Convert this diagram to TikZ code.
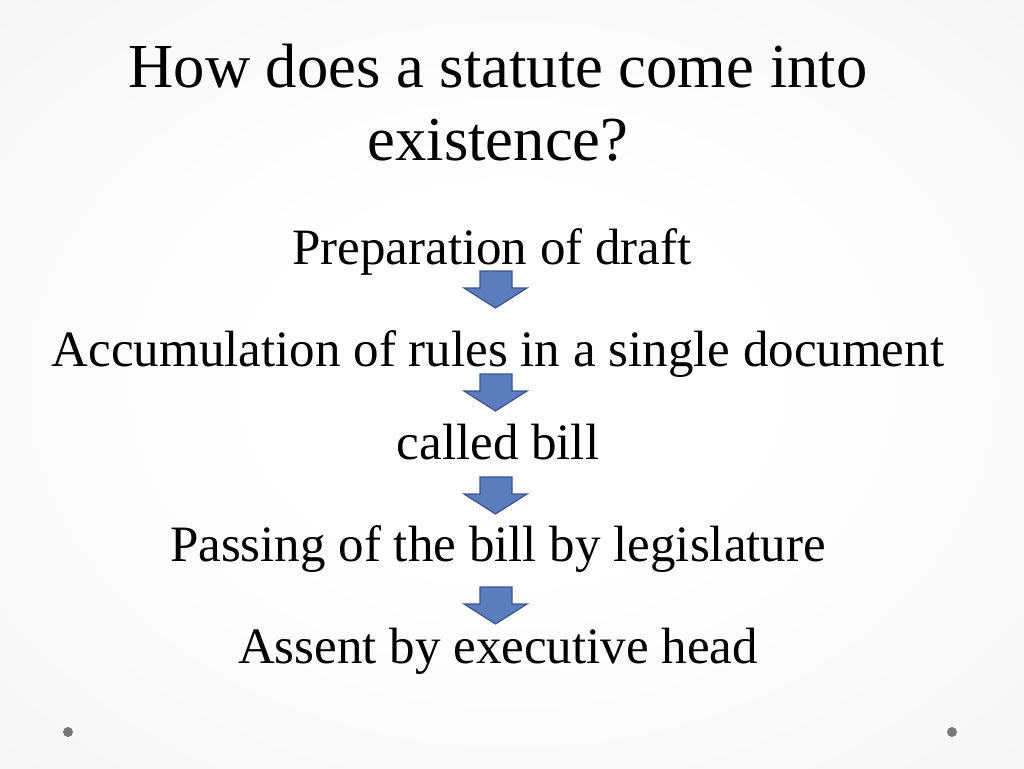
\documentclass[tikz,border=0pt]{standalone}
\usepackage{fontspec}
\setmainfont{Liberation Serif}
\definecolor{arrowfill}{RGB}{93,124,190}
\definecolor{arrowline}{RGB}{58,84,140}
\definecolor{dotgray}{RGB}{120,120,120}
\pgfdeclareradialshading{slidebg}{\pgfpoint{0bp}{0bp}}{%
  rgb(0bp)=(1,1,1);
  rgb(12bp)=(1,1,1);
  rgb(45bp)=(0.95,0.95,0.95);
  rgb(72bp)=(0.90,0.90,0.90)}
\begin{document}
\begin{tikzpicture}[x=1pt,y=-1pt,
  titletext/.style={font=\fontsize{62.6}{73}\selectfont, anchor=base, inner sep=0pt},
  bodytext/.style={font=\fontsize{51}{60}\selectfont, anchor=base, inner sep=0pt},
  blockarrow/.style={fill=arrowfill, draw=arrowline, line width=1.2pt, line join=miter},
  cornerdot/.style={circle, fill=dotgray, inner sep=0pt, minimum size=10pt}]
\useasboundingbox (0,0) rectangle (1024,768);
\shade[shading=slidebg] (0,0) rectangle (1024,768);
\node[titletext] (t1) at (498,87) {How does a statute come into};
\node[titletext] (t2) at (498,160) {existence?};
\node[bodytext] (s1) at (492,264) {Preparation of draft};
\node[bodytext] (s2) at (498,366) {Accumulation of rules in a single document};
\node[bodytext] (s3) at (498,459) {called bill};
\node[bodytext] (s4) at (498,561) {Passing of the bill by legislature};
\node[bodytext] (s5) at (498,663) {Assent by executive head};
\foreach \t/\n in {271/a1,374/a2,477/a3,587/a4}{
  \draw[blockarrow] (480,\t) -- (512,\t) -- (512,\t+17) -- (527,\t+17) -- (495.5,\t+37) -- (464,\t+17) -- (480,\t+17) -- cycle;
}
\node[cornerdot] (d1) at (68,732) {};
\node[cornerdot] (d2) at (952,732) {};
\end{tikzpicture}
\end{document}
